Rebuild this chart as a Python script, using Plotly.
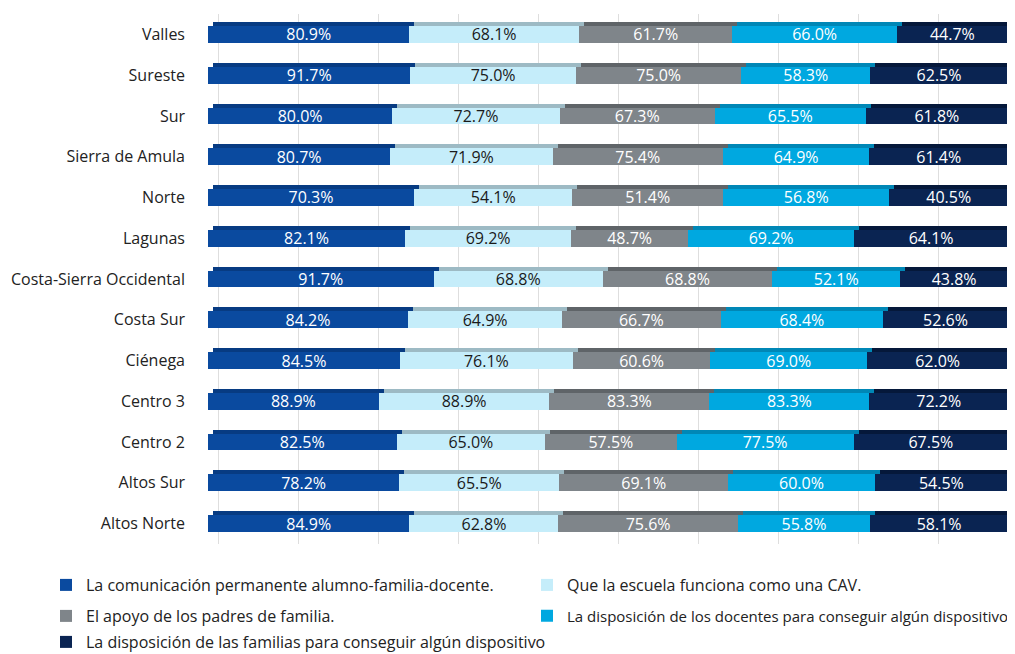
import plotly.graph_objects as go

categories = ["Valles", "Sureste", "Sur", "Sierra de Amula", "Norte", "Lagunas",
              "Costa-Sierra Occidental", "Costa Sur", "Ciénega", "Centro 3",
              "Centro 2", "Altos Sur", "Altos Norte"]

comunicacion = [80.9, 91.7, 80.0, 80.7, 70.3, 82.1, 91.7, 84.2, 84.5, 88.9, 82.5, 78.2, 84.9]
escuela_cav = [68.1, 75.0, 72.7, 71.9, 54.1, 69.2, 68.8, 64.9, 76.1, 88.9, 65.0, 65.5, 62.8]
apoyo_padres = [61.7, 75.0, 67.3, 75.4, 51.4, 48.7, 68.8, 66.7, 60.6, 83.3, 57.5, 69.1, 75.6]
disp_docentes = [66.0, 58.3, 65.5, 64.9, 56.8, 69.2, 52.1, 68.4, 69.0, 83.3, 77.5, 60.0, 55.8]
disp_familias = [44.7, 62.5, 61.8, 61.4, 40.5, 64.1, 43.8, 52.6, 62.0, 72.2, 67.5, 54.5, 58.1]

series_names = [
    "La comunicación permanente alumno-familia-docente.",
    "Que la escuela funciona como una CAV.",
    "El apoyo de los padres de familia.",
    "La disposición de los docentes para conseguir algún dispositivo",
    "La disposición de las familias para conseguir algún dispositivo",
]
series_values = [comunicacion, escuela_cav, apoyo_padres, disp_docentes, disp_familias]
front_colors = ["#0A4A9F", "#C5EDFA", "#7F858A", "#00A8E0", "#0A2452"]
top_colors = ["#073B82", "#9DBAC4", "#5F6468", "#0087B6", "#05183A"]
text_colors = ["white", "#1A1A1A", "white", "white", "white"]
legend_ids = ["legend", "legend2", "legend3", "legend4", "legend5"]

FONT = "Open Sans"

fig = go.Figure()

# 3D extrusion (top / side faces), on the main (shifted) axes -> drawn behind
for vals, col in zip(series_values, top_colors):
    fig.add_trace(go.Bar(
        y=categories, x=vals, orientation="h", marker=dict(color=col, line=dict(width=0)),
        xaxis="x", yaxis="y", showlegend=False, hoverinfo="skip", width=0.41,
    ))

# front faces on overlay axes -> drawn on top
for name, vals, col, tcol, lg in zip(series_names, series_values, front_colors, text_colors, legend_ids):
    fig.add_trace(go.Bar(
        y=categories, x=vals, orientation="h", name=name,
        marker=dict(color=col, line=dict(width=0)),
        text=[f"{v:.1f}%" for v in vals], textposition="inside",
        insidetextanchor="middle", textangle=0, constraintext="none",
        textfont=dict(family=FONT, size=16, color=tcol),
        width=0.41, legend=lg, xaxis="x2", yaxis="y2",
    ))

px_per_unit = 8.0  # 800 px for 100 %
shift_x = 5 / px_per_unit
row_px = 40.77
shift_y = 4 / row_px
XMAX = 100.75

# the page body adds an 8 px offset; margins compensate for it
fig.update_layout(
    width=1015, height=654,
    margin=dict(l=200, r=9, t=6, b=118, autoexpand=False),
    paper_bgcolor="white", plot_bgcolor="white",
    barmode="stack", barnorm="percent",
    font=dict(family=FONT, size=16, color="#222222"),
    xaxis=dict(range=[-shift_x, XMAX - shift_x], showgrid=True, gridcolor="#DEDEDE", gridwidth=1,
               tick0=shift_x, dtick=10, zeroline=False, showticklabels=False, ticks=""),
    xaxis2=dict(range=[0, XMAX], overlaying="x", visible=False, showgrid=False),
    yaxis=dict(categoryorder="array", categoryarray=categories,
               range=[12.5 + shift_y, -0.5 + shift_y], showgrid=False, zeroline=False,
               showticklabels=False, ticks=""),
    yaxis2=dict(categoryorder="array", categoryarray=categories, range=[12.5, -0.5],
                overlaying="y", side="left", showgrid=False, zeroline=False, ticks="",
                ticklabelstandoff=22, showline=False, automargin=False,
                tickfont=dict(family=FONT, size=16, color="#222222")),
    uniformtext=dict(minsize=8, mode=False),
)

leg_x = [38 / 1015, 519 / 1015, 38 / 1015, 519 / 1015, 38 / 1015]
leg_y = [1 - 577 / 654, 1 - 577 / 654, 1 - 608 / 654, 1 - 608 / 654, 1 - 634 / 654]
leg_size = [16, 16, 16, 15, 16]
for lid, lx, ly, ls in zip(legend_ids, leg_x, leg_y, leg_size):
    fig.update_layout({lid: dict(orientation="h", x=lx, xanchor="left", y=ly, yanchor="middle",
                                 xref="container", yref="container",
                                 font=dict(family=FONT, size=ls, color="#222222"),
                                 bgcolor="rgba(0,0,0,0)", traceorder="normal")})

fig.write_html("out.html")
